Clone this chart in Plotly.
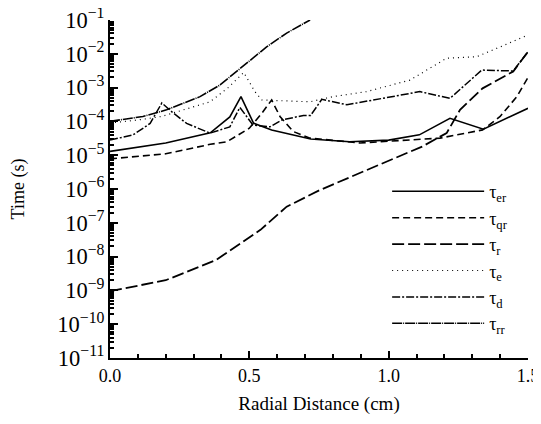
import plotly.graph_objects as go

# Radial distance (cm) and time (s) for each curve
x_er = [0.0, 0.2, 0.36, 0.43, 0.47, 0.515, 0.58, 0.72, 0.86, 1.0, 1.11, 1.22, 1.34, 1.5]
y_er = [1.3e-5, 2.3e-5, 4.6e-5, 1.35e-4, 5.4e-4, 8.9e-5, 5.6e-5, 3.0e-5, 2.5e-5, 2.8e-5, 4.0e-5, 1.23e-4, 5.9e-5, 2.45e-4]

x_qr = [0.0, 0.2, 0.36, 0.42, 0.5, 0.544, 0.58, 0.61, 0.658, 0.718, 0.897, 1.184, 1.337, 1.4, 1.46, 1.5]
y_qr = [7.8e-6, 1.1e-5, 2.1e-5, 2.5e-5, 6.3e-5, 1.7e-4, 4.3e-4, 1.4e-4, 5.0e-5, 3.2e-5, 2.3e-5, 3.2e-5, 5.6e-5, 1.4e-4, 5.4e-4, 2.0e-3]

x_r = [0.0, 0.2, 0.38, 0.54, 0.634, 0.753, 0.92, 1.12, 1.208, 1.256, 1.337, 1.447, 1.5]
y_r = [9.5e-10, 2.0e-9, 7.9e-9, 6.2e-8, 3.0e-7, 9.3e-7, 3.6e-6, 1.8e-5, 4.5e-5, 2.2e-4, 9.5e-4, 3.0e-3, 1.15e-2]

x_e = [0.0, 0.1, 0.185, 0.359, 0.423, 0.48, 0.52, 0.545, 0.718, 0.8, 0.92, 1.076, 1.208, 1.316, 1.4, 1.5]
y_e = [9.0e-5, 1.1e-4, 1.4e-4, 3.8e-4, 9.8e-4, 2.8e-3, 7.6e-4, 4.3e-4, 3.8e-4, 5.4e-4, 7.6e-4, 1.66e-3, 7.4e-3, 8.2e-3, 1.6e-2, 3.6e-2]

x_d = [0.0, 0.083, 0.144, 0.186, 0.221, 0.275, 0.359, 0.43, 0.466, 0.513, 0.574, 0.616, 0.694, 0.72, 0.76, 0.85, 1.112, 1.22, 1.334, 1.447, 1.5]
y_d = [2.8e-5, 4.0e-5, 8.7e-5, 3.5e-4, 1.95e-4, 8.7e-5, 4.5e-5, 6.9e-5, 2.6e-4, 7.8e-5, 6.9e-5, 1.1e-4, 1.5e-4, 1.5e-4, 4.5e-4, 3.1e-4, 7.6e-4, 4.8e-4, 3.3e-3, 3.1e-3, 1.15e-2]

x_rr = [0.0, 0.118, 0.203, 0.323, 0.395, 0.466, 0.562, 0.634, 0.718]
y_rr = [1.0e-4, 1.4e-4, 2.2e-4, 5.4e-4, 1.2e-3, 3.7e-3, 1.6e-2, 4.1e-2, 1.0e-1]

labels = ["τ<sub>er</sub>", "τ<sub>qr</sub>", "τ<sub>r</sub>", "τ<sub>e</sub>", "τ<sub>d</sub>", "τ<sub>rr</sub>"]

series = [
    (x_er, y_er, "solid", 1.6),
    (x_qr, y_qr, "7px,4px", 1.6),
    (x_r, y_r, "12px,4px", 1.8),
    (x_e, y_e, "1px,4px", 1.2),
    (x_d, y_d, "8px,2px,2px,2px", 1.5),
    (x_rr, y_rr, "10px,1px,1px,1px", 1.6),
]

FONT = "Liberation Serif, DejaVu Serif, serif"

fig = go.Figure()
for (xs, ys, dash, w), name in zip(series, labels):
    fig.add_trace(go.Scatter(x=xs, y=ys, mode="lines", name=name,
                             line=dict(color="black", width=w, dash=dash)))

fig.update_layout(
    width=533, height=416,
    margin=dict(l=102, r=13, t=12, b=66, autoexpand=False),
    paper_bgcolor="white", plot_bgcolor="white",
    font=dict(family=FONT, color="black", size=16),
    showlegend=True,
    legend=dict(x=0.663, y=0.547, xanchor="left", yanchor="top",
                bgcolor="rgba(0,0,0,0)", itemwidth=92,
                font=dict(family=FONT, size=18), tracegroupgap=0),
)
fig.update_xaxes(
    range=[0, 1.5], tickvals=[0, 0.5, 1.0, 1.5], ticktext=["0.0", "0.5", "1.0", "1.5"],
    automargin=False, ticklabeloverflow="allow",
    showline=True, linecolor="black", linewidth=2, showgrid=False, zeroline=False,
    ticks="inside", ticklen=7, tickwidth=1.5, tickcolor="black",
    minor=dict(dtick=0.1, ticks="inside", ticklen=4, tickcolor="black", showgrid=False),
    tickfont=dict(family=FONT, size=18),
    title=dict(text="Radial Distance (cm)", font=dict(family=FONT, size=19), standoff=12),
)
fig.update_yaxes(
    type="log", range=[-11, -1], dtick=1, exponentformat="power", showexponent="all",
    automargin=False, ticklabeloverflow="allow",
    showline=True, linecolor="black", linewidth=2, showgrid=False, zeroline=False,
    ticks="inside", ticklen=8, tickwidth=1.5, tickcolor="black",
    minor=dict(dtick="D1", ticks="inside", ticklen=4, tickcolor="black", showgrid=False),
    tickfont=dict(family=FONT, size=18),
    title=dict(text="Time (s)", font=dict(family=FONT, size=18), standoff=28),
)

fig.write_html("out.html")
